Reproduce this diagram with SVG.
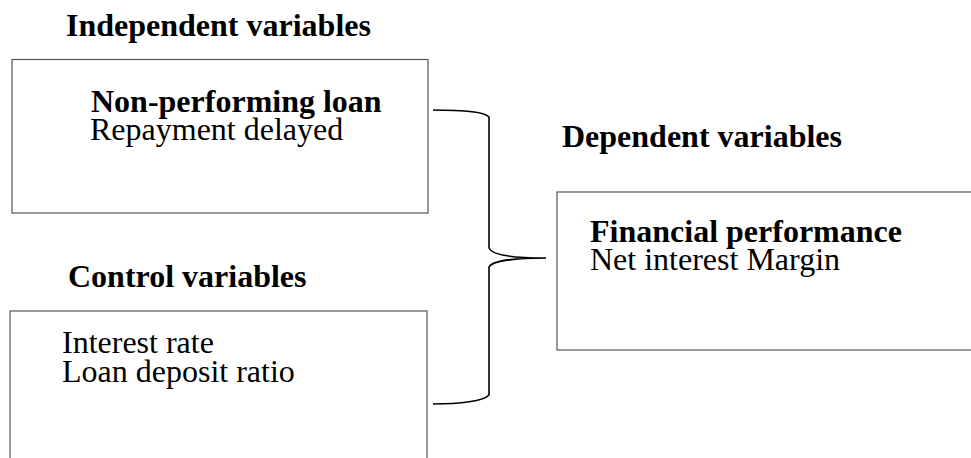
<svg xmlns="http://www.w3.org/2000/svg" width="971" height="458" viewBox="0 0 971 458">
<style>
text{font-family:"Liberation Serif","Times New Roman",serif;font-size:32px;fill:#000}
.b{font-weight:bold}
.box{fill:#fff;stroke:#555;stroke-width:1.2}
.brace{fill:none;stroke:#000;stroke-width:1.6}
</style>
<rect width="971" height="458" fill="#fff"/>
<text id="t-ind" class="b" x="66" y="36">Independent variables</text>
<text id="t-ctl" class="b" x="68" y="287">Control variables</text>
<text id="t-dep" class="b" x="562" y="147">Dependent variables</text>
<g id="node-npl">
<rect class="box" x="12" y="59.5" width="416" height="153.5"/>
<text x="91" y="112"><tspan class="b">Non-performing loan</tspan><tspan x="90" y="140">Repayment delayed</tspan></text>
</g>
<g id="node-control">
<rect class="box" x="10" y="311" width="417" height="160"/>
<text x="62" y="353">Interest rate<tspan x="62" y="382">Loan deposit ratio</tspan></text>
</g>
<g id="node-fin">
<rect class="box" x="557" y="192" width="430" height="158"/>
<text x="590" y="242"><tspan class="b">Financial performance</tspan><tspan x="590" y="270">Net interest Margin</tspan></text>
</g>
<g id="connectors">
<path class="brace" d="M433,110 C460,110 484,111 489,117 L489,248 C492,255 515,258 546,258 C515,258 492,261 489,267 L489,395 C484,401 460,404 433,404"/>
</g>
</svg>
